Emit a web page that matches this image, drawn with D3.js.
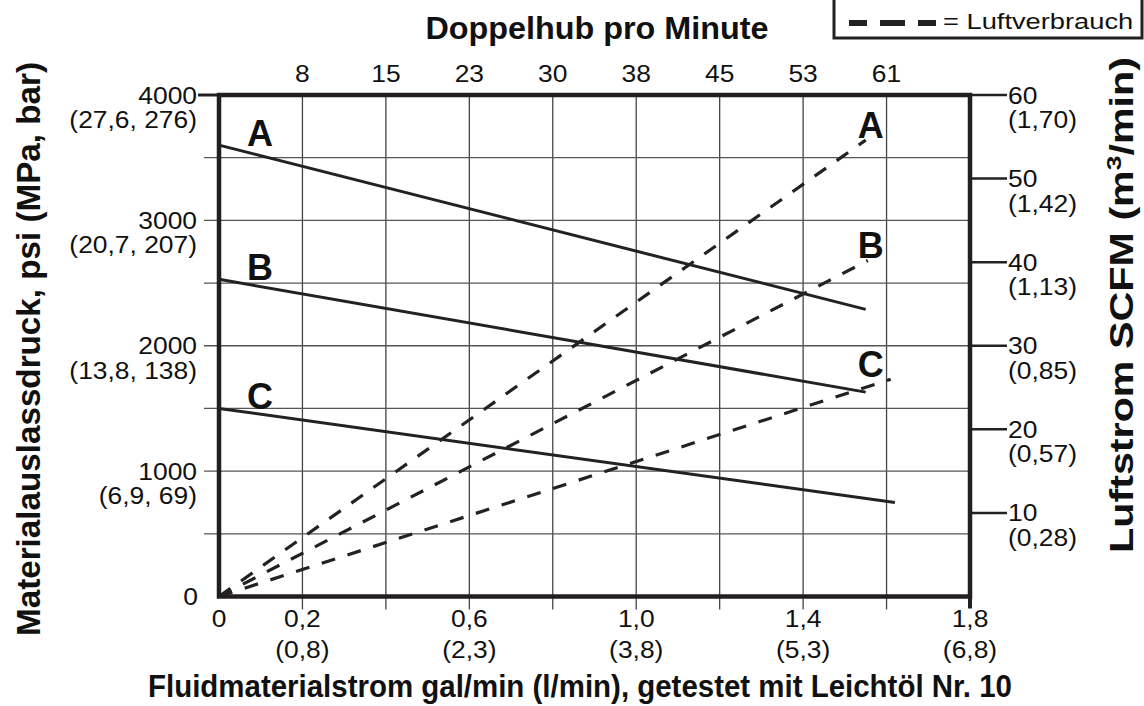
<!DOCTYPE html>
<html>
<head>
<meta charset="utf-8">
<script src="https://cdn.jsdelivr.net/npm/d3@7"></script>
<style>
  body { margin: 0; background: #fff; }
  text { font-family: "Liberation Sans", Arial, Helvetica, sans-serif; fill: #111; }
</style>
</head>
<body>
<svg id="chart" width="1144" height="706"></svg>
<script>
// Fluid flow (gal/min) tick values and their two-line labels
const flowTicks = [0.2, 0.6, 1.0, 1.4, 1.8];
const flowLabels = ["0,2", "0,6", "1,0", "1,4", "1,8"];
const flowLitres = ["(0,8)", "(2,3)", "(3,8)", "(5,3)", "(6,8)"];
const flowGrid = [0.2, 0.4, 0.6, 0.8, 1.0, 1.2, 1.4, 1.6];

// Cycles per minute, shown along the top at the grid positions
const cycleLabels = ["8", "15", "23", "30", "38", "45", "53", "61"];

// Outlet pressure (psi) ticks with MPa / bar equivalents
const pressureTicks = [1000, 2000, 3000, 4000];
const pressureMetric = ["(6,9, 69)", "(13,8, 138)", "(20,7, 207)", "(27,6, 276)"];
const pressureGrid = [500, 1000, 1500, 2000, 2500, 3000, 3500];

// Air flow (SCFM) ticks with m³/min equivalents
const airTicks = [10, 20, 30, 40, 50, 60];
const airMetric = ["(0,28)", "(0,57)", "(0,85)", "(1,13)", "(1,42)", "(1,70)"];

// Curves for the three pressure settings: [gal/min, value]
const seriesNames = ["A", "B", "C"];
const pressureA = [[0, 3600], [1.55, 2290]];
const pressureB = [[0, 2530], [1.55, 1630]];
const pressureC = [[0, 1500], [1.62, 750]];
const airA = [[0, 0], [1.55, 54.6]];
const airB = [[0, 0], [1.555, 40.2]];
const airC = [[0, 0], [1.61, 26]];

const pressureCurves = [pressureA, pressureB, pressureC];
const airCurves = [airA, airB, airC];

const svg = d3.select("#chart");
const ink = "#222";

const x = d3.scaleLinear().domain([0, 1.8]).range([219, 970]);
const y = d3.scaleLinear().domain([0, 4000]).range([596.5, 95]);
const y2 = d3.scaleLinear().domain([0, 60]).range([596.5, 95]);

const FS = 24;     // tick label size
const SX = 1.1;    // tick label glyphs are a little wide

// text helper: places a label at (px, py) with a horizontal stretch
function label(g, px, py, str, opts = {}) {
  return g.append("text")
    .attr("transform", `translate(${px},${py}) scale(${opts.sx || SX},1)`)
    .attr("text-anchor", opts.anchor || "start")
    .attr("font-size", opts.size || FS)
    .attr("font-weight", opts.weight || "normal")
    .text(str);
}

// grid
const grid = svg.append("g");
grid.selectAll("line.v").data(flowGrid).join("line")
  .attr("x1", d => x(d)).attr("x2", d => x(d))
  .attr("y1", y(4000)).attr("y2", y(0) + 13)
  .attr("stroke", "#444").attr("stroke-width", 1.3);
grid.selectAll("line.h").data(pressureGrid).join("line")
  .attr("x1", 204).attr("x2", x(1.8))
  .attr("y1", d => y(d)).attr("y2", d => y(d))
  .attr("stroke", "#555").attr("stroke-width", 1.3);

// left axis labels
const leftAxis = svg.append("g");
leftAxis.append("line").attr("x1", 198).attr("x2", x(0)).attr("y1", y(4000)).attr("y2", y(4000))
  .attr("stroke", ink).attr("stroke-width", 3);
pressureTicks.forEach((v, i) => {
  label(leftAxis, 197, y(v) + 8.5, v, { anchor: "end" });
  label(leftAxis, 197, y(v) + 33, pressureMetric[i], { anchor: "end" });
});
label(leftAxis, 198, y(0) + 8, "0", { anchor: "end" });

// right axis
const rightAxis = svg.append("g");
airTicks.forEach((v, i) => {
  rightAxis.append("line").attr("x1", x(1.8)).attr("x2", 1007).attr("y1", y2(v)).attr("y2", y2(v))
    .attr("stroke", ink).attr("stroke-width", 2.5);
  label(rightAxis, 1008, y2(v) + 8.5, v);
  label(rightAxis, 1008, y2(v) + 33, airMetric[i]);
});

// bottom axis
const bottomAxis = svg.append("g");
bottomAxis.append("line").attr("x1", x(1.8)).attr("x2", x(1.8)).attr("y1", y(0)).attr("y2", y(0) + 12)
  .attr("stroke", ink).attr("stroke-width", 4);
label(bottomAxis, x(0), 627, "0", { anchor: "middle" });
flowTicks.forEach((v, i) => {
  label(bottomAxis, x(v), 627, flowLabels[i], { anchor: "middle" });
  label(bottomAxis, x(v), 658, flowLitres[i], { anchor: "middle" });
});

// top axis: cycles per minute
const topAxis = svg.append("g");
flowGrid.forEach((v, i) => {
  label(topAxis, x(v), 82, cycleLabels[i], { anchor: "middle" });
});

// titles
svg.append("text").attr("x", 597).attr("y", 39).attr("text-anchor", "middle")
  .attr("font-size", 31).attr("font-weight", "bold")
  .attr("textLength", 343).attr("lengthAdjust", "spacingAndGlyphs")
  .text("Doppelhub pro Minute");
svg.append("text").attr("x", 580).attr("y", 697).attr("text-anchor", "middle")
  .attr("font-size", 31).attr("font-weight", "bold")
  .attr("textLength", 864).attr("lengthAdjust", "spacingAndGlyphs")
  .text("Fluidmaterialstrom gal/min (l/min), getestet mit Leichtöl Nr. 10");
svg.append("text").attr("transform", "translate(40,349) rotate(-90)").attr("text-anchor", "middle")
  .attr("font-size", 33).attr("font-weight", "bold")
  .attr("textLength", 574).attr("lengthAdjust", "spacingAndGlyphs")
  .text("Materialauslassdruck, psi (MPa, bar)");
const rt = svg.append("text").attr("transform", "translate(1133,305) rotate(-90)").attr("text-anchor", "middle")
  .attr("font-size", 33).attr("font-weight", "bold")
  .attr("textLength", 496).attr("lengthAdjust", "spacingAndGlyphs");
rt.append("tspan").text("Luftstrom SCFM (m");
rt.append("tspan").attr("font-size", 21).attr("dy", -12).text("3");
rt.append("tspan").attr("dy", 12).text("/min)");

// curves
const curves = svg.append("g");
pressureCurves.forEach(c => {
  curves.append("path").datum(c).attr("d", d3.line().x(d => x(d[0])).y(d => y(d[1])))
    .attr("fill", "none").attr("stroke", ink).attr("stroke-width", 3);
});
airCurves.forEach(c => {
  curves.append("path").datum(c).attr("d", d3.line().x(d => x(d[0])).y(d => y2(d[1])))
    .attr("fill", "none").attr("stroke", ink).attr("stroke-width", 3.2)
    .attr("stroke-dasharray", "14,13");
});

// series letters
seriesNames.forEach((n, i) => {
  curves.append("text").attr("x", 260).attr("y", y(pressureCurves[i][0][1]) + 1)
    .attr("text-anchor", "middle").attr("font-size", 36).attr("font-weight", "bold").text(n);
  const end = airCurves[i][1];
  curves.append("text").attr("x", x(1.562)).attr("y", y2(end[1]) - 2)
    .attr("text-anchor", "middle").attr("font-size", 36).attr("font-weight", "bold").text(n);
});

// frame
svg.append("rect").attr("x", x(0)).attr("y", y(4000))
  .attr("width", x(1.8) - x(0)).attr("height", y(0) - y(4000))
  .attr("fill", "none").attr("stroke", "#231f20").attr("stroke-width", 4.5);

// legend
const lg = svg.append("g");
lg.append("rect").attr("x", 834).attr("y", -5).attr("width", 308).attr("height", 43)
  .attr("fill", "#fff").attr("stroke", ink).attr("stroke-width", 3);
lg.append("line").attr("x1", 849).attr("x2", 936).attr("y1", 23).attr("y2", 23)
  .attr("stroke", ink).attr("stroke-width", 6).attr("stroke-dasharray", "18,13,25,13,18");
label(lg, 943, 28.5, "= Luftverbrauch", { size: 22, sx: 1.24 });
</script>
</body>
</html>
